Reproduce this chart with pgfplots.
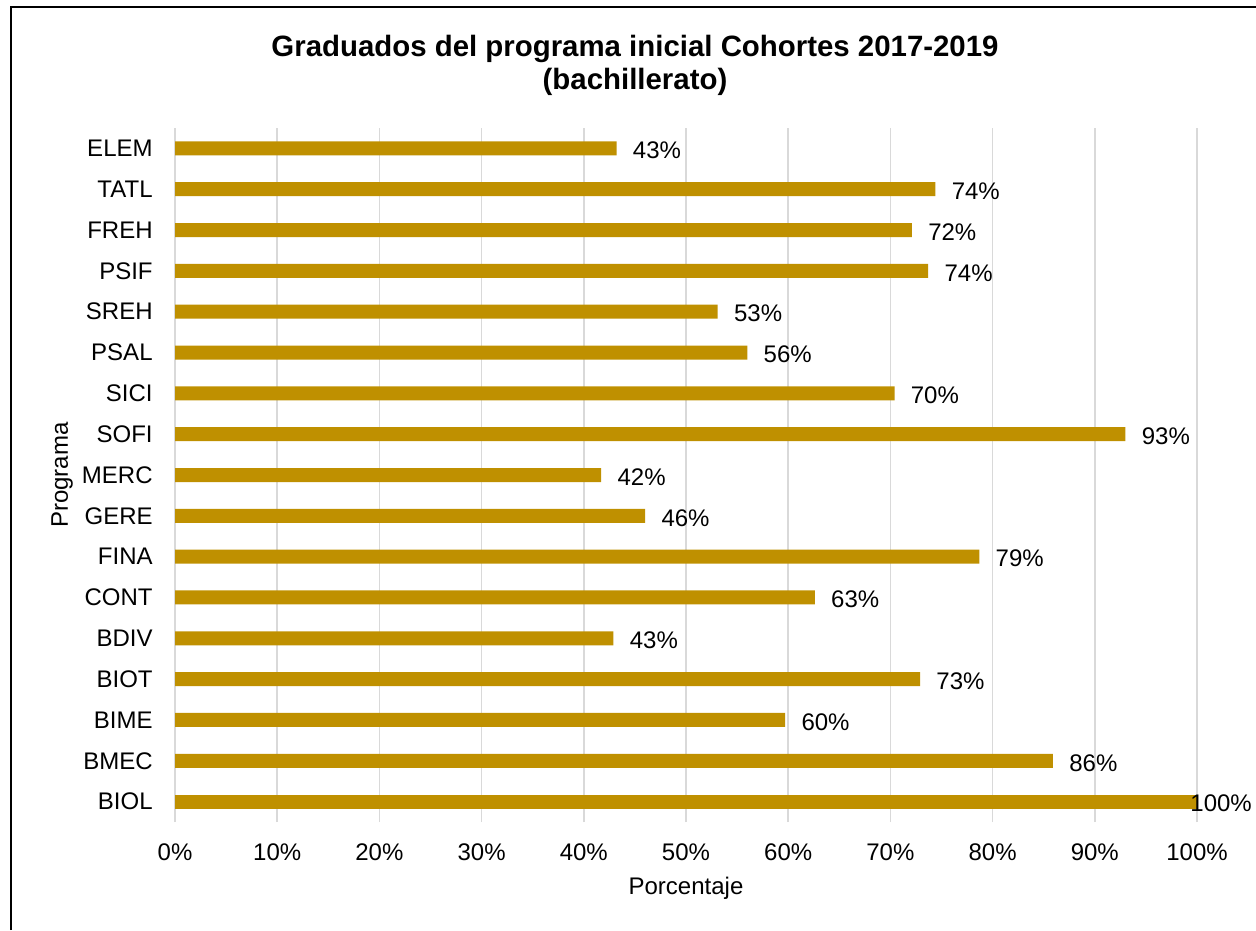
\documentclass[border=0pt]{standalone}
\usepackage{fontspec}
\setmainfont{Liberation Sans}
\usepackage{pgfplots}
\pgfplotsset{compat=1.18}
\usepackage{pgfplotstable}
\definecolor{bargold}{RGB}{191,144,0}
\definecolor{gridgray}{RGB}{217,217,217}
\pgfplotstableread{
y val
1 85.9
2 59.7
3 72.9
4 42.9
5 62.6
6 78.7
7 46.0
8 41.7
9 93.0
10 70.4
11 56.0
12 53.1
13 73.7
14 72.1
15 74.4
16 43.2
}\datatab
\begin{document}
\begin{tikzpicture}
\useasboundingbox (0,0) rectangle (628pt,-465pt);
\draw[line width=1pt] (5.5pt,-465pt) -- (5.5pt,-3.5pt) -- (628pt,-3.5pt);
\node[align=center, font=\fontsize{14.7}{16.5}\selectfont\bfseries, inner sep=0pt] at (317.5pt,-32.5pt)
  {Graduados del programa inicial Cohortes 2017-2019\\(bachillerato)};
\begin{axis}[
  at={(87.5pt,-411pt)}, anchor=south west,
  width=511pt, height=347pt, scale only axis,
  xmin=0, xmax=100, ymin=-0.5, ymax=16.5,
  xbar, bar width=7pt, bar shift=0pt,
  axis lines=left, axis line style={draw=none},
  major tick length=0pt,
  xtick={0,10,...,100},
  xticklabel={\pgfmathprintnumber{\tick}\%},
  ytick={0,...,16},
  yticklabels={BIOL,BMEC,BIME,BIOT,BDIV,CONT,FINA,GERE,MERC,SOFI,SICI,PSAL,SREH,PSIF,FREH,TATL,ELEM},
  /pgf/number format/assume math mode=true,
  xmajorgrids, grid style={gridgray, line width=0.8pt},
  ticklabel style={font=\fontsize{12}{14}\selectfont, inner sep=0pt},
  yticklabel style={xshift=-11pt},
  xticklabel style={yshift=-10.5pt},
  xlabel={Porcentaje}, ylabel={Programa},
  label style={font=\fontsize{12}{14}\selectfont, inner sep=0pt},
  xlabel style={at={(axis description cs:0.5,0)}, anchor=center, yshift=-33pt},
  ylabel style={at={(axis description cs:0,0.5)}, anchor=center, yshift=56.5pt},
  clip=false,
  point meta=x,
  nodes near coords={\pgfmathprintnumber[fixed,precision=0]{\pgfplotspointmeta}\%},
]
\addplot[fill=bargold, draw=none,
  every node near coord/.style={anchor=west, inner sep=0pt, xshift=8pt, yshift=-1pt,
    font=\fontsize{12}{14}\selectfont, text=black}]
  table[x=val, y=y] {\datatab};
\addplot[fill=bargold, draw=none,
  every node near coord/.style={anchor=west, inner sep=0pt, xshift=-3.5pt, yshift=-1pt,
    font=\fontsize{12}{14}\selectfont, text=black}]
  coordinates {(100,0)};
\end{axis}
\end{tikzpicture}
\end{document}
